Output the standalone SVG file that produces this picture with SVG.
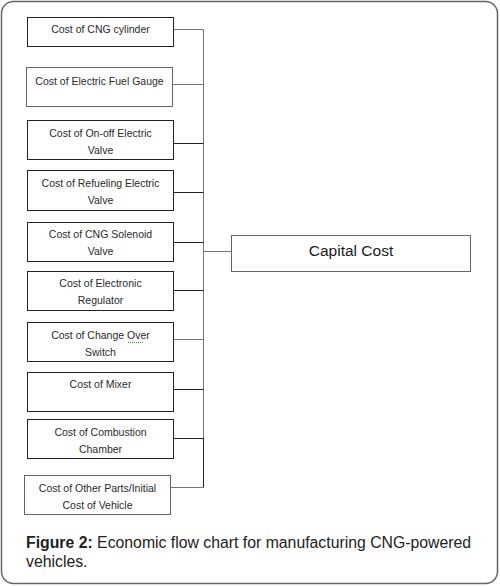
<svg xmlns="http://www.w3.org/2000/svg" width="500" height="586" viewBox="0 0 500 586">
<style>
.box{fill:#fff;stroke:#222;stroke-width:1}
.boxg{fill:#fff;stroke:#666;stroke-width:1}
.t{font-family:"Liberation Sans",Arial,sans-serif;font-size:10.5px;fill:#2a2a2a;text-anchor:middle}
.big{font-family:"Liberation Sans",Arial,sans-serif;font-size:15.5px;fill:#1a1a1a;text-anchor:middle}
.cap{font-family:"Liberation Sans",Arial,sans-serif;font-size:15.8px;fill:#222}
.c{fill:none;stroke:#222;stroke-width:1}
.cg{fill:none;stroke:#777;stroke-width:1}
</style>
<rect x="1.5" y="1.5" width="496" height="582" rx="12" fill="#fff" stroke="#666" stroke-width="1.5"/>
<g id="connectors">
<path class="cg" d="M173 29.5H203.5V439"/>
<path class="cg" d="M172.5 84.5H203.5"/>
<path class="c" d="M173 143.5H203.5"/>
<path class="c" d="M173 192.5H203.5"/>
<path class="c" d="M173 242.5H203.5"/>
<path class="cg" d="M203.5 251.5H231"/>
<path class="c" d="M173 290.5H203.5"/>
<path class="cg" d="M173 339.5H203.5"/>
<path class="c" d="M173 389.5H203.5"/>
<path class="c" d="M173 438.5H204"/>
<path class="c" d="M203.5 438.5V487"/>
<path class="cg" d="M170 487.5H204"/>
</g>
<g id="n1"><rect class="box" x="27.5" y="17.5" width="146" height="29"/><text class="t" x="100.5" y="33">Cost of CNG cylinder</text></g>
<g id="n2"><rect class="boxg" x="26.5" y="67.5" width="146" height="39"/><text class="t" x="99.5" y="85">Cost of Electric Fuel Gauge</text></g>
<g id="n3"><rect class="box" x="27.5" y="120.5" width="146" height="39"/><text class="t" x="100.5" y="137">Cost of On-off Electric</text><text class="t" x="100.5" y="154">Valve</text></g>
<g id="n4"><rect class="box" x="27.5" y="170.5" width="146" height="40"/><text class="t" x="100.5" y="187">Cost of Refueling Electric</text><text class="t" x="100.5" y="204">Valve</text></g>
<g id="n5"><rect class="box" x="27.5" y="222.5" width="146" height="39"/><text class="t" x="100.5" y="238">Cost of CNG Solenoid</text><text class="t" x="100.5" y="255">Valve</text></g>
<g id="n6"><rect class="box" x="27.5" y="271.5" width="146" height="39"/><text class="t" x="100.5" y="287">Cost of Electronic</text><text class="t" x="100.5" y="304">Regulator</text></g>
<g id="n7"><rect class="box" x="27.5" y="322.5" width="146" height="39"/><text class="t" x="100.5" y="339">Cost of Change Over</text><text class="t" x="100.5" y="356">Switch</text><path d="M128 342.5h15" stroke="#3a9a3a" stroke-width="1" stroke-dasharray="1,1"/></g>
<g id="n8"><rect class="box" x="27.5" y="372.5" width="146" height="39"/><text class="t" x="100.5" y="388">Cost of Mixer</text></g>
<g id="n9"><rect class="box" x="27.5" y="419.5" width="146" height="39"/><text class="t" x="100.5" y="436">Cost of Combustion</text><text class="t" x="100.5" y="453">Chamber</text></g>
<g id="n10"><rect class="boxg" x="24.5" y="475.5" width="146" height="39"/><text class="t" x="97.5" y="492">Cost of Other Parts/Initial</text><text class="t" x="97.5" y="509">Cost of Vehicle</text></g>
<g id="capital"><rect class="boxg" x="231.5" y="235.5" width="239" height="36"/><text class="big" x="351" y="256">Capital Cost</text></g>
<text class="cap" x="26" y="548"><tspan font-weight="bold">Figure 2:</tspan> Economic flow chart for manufacturing CNG-powered</text>
<text class="cap" x="26" y="567">vehicles.</text>
</svg>
